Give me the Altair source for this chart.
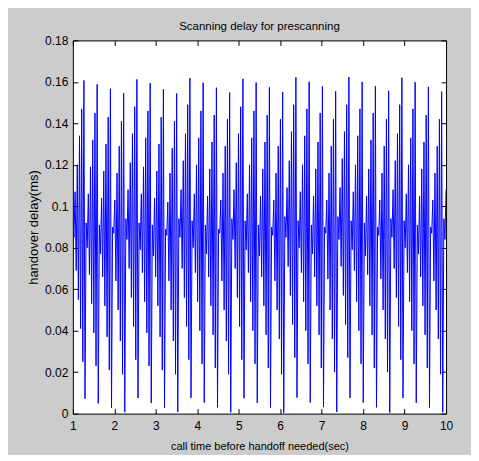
import altair as alt
import numpy as np
import pandas as pd

# Handover delay samples (ms), left to right
delay = [
    0.093, 0.085, 0.107, 0.069, 0.120, 0.055, 0.134, 0.041, 0.147, 0.025, 0.1607, 0.0072,
    0.092, 0.080, 0.106, 0.067, 0.119, 0.053, 0.132, 0.039, 0.145, 0.023, 0.1588, 0.0049,
    0.091, 0.077, 0.104, 0.066, 0.117, 0.052, 0.130, 0.037, 0.143, 0.021, 0.1567, 0.0027,
    0.090, 0.087, 0.103, 0.064, 0.116, 0.050, 0.129, 0.035, 0.141, 0.019, 0.1546, 0.0007,
    0.094, 0.084, 0.108, 0.070, 0.121, 0.056, 0.135, 0.042, 0.148, 0.026, 0.1612, 0.0075,
    0.092, 0.079, 0.106, 0.068, 0.119, 0.054, 0.133, 0.039, 0.146, 0.023, 0.1594, 0.0051,
    0.091, 0.076, 0.104, 0.066, 0.117, 0.052, 0.130, 0.037, 0.143, 0.021, 0.1565, 0.0028,
    0.089, 0.086, 0.102, 0.064, 0.116, 0.050, 0.128, 0.035, 0.141, 0.019, 0.1544, 0.0008,
    0.094, 0.085, 0.108, 0.070, 0.122, 0.056, 0.135, 0.042, 0.149, 0.026, 0.1618, 0.0076,
    0.093, 0.080, 0.106, 0.068, 0.120, 0.054, 0.133, 0.040, 0.146, 0.024, 0.1596, 0.0053,
    0.091, 0.077, 0.105, 0.066, 0.118, 0.052, 0.131, 0.038, 0.144, 0.022, 0.1572, 0.0030,
    0.089, 0.087, 0.103, 0.064, 0.116, 0.050, 0.129, 0.035, 0.142, 0.019, 0.1549, 0.0006,
    0.094, 0.084, 0.108, 0.070, 0.121, 0.056, 0.135, 0.042, 0.148, 0.026, 0.1615, 0.0074,
    0.093, 0.079, 0.106, 0.068, 0.120, 0.054, 0.133, 0.040, 0.146, 0.024, 0.1597, 0.0052,
    0.091, 0.076, 0.105, 0.066, 0.118, 0.052, 0.131, 0.038, 0.144, 0.022, 0.1574, 0.0029,
    0.090, 0.086, 0.103, 0.064, 0.116, 0.050, 0.129, 0.036, 0.142, 0.019, 0.1551, 0.0004,
    0.095, 0.085, 0.109, 0.071, 0.122, 0.057, 0.136, 0.043, 0.149, 0.027, 0.1622, 0.0077,
    0.093, 0.080, 0.107, 0.068, 0.120, 0.054, 0.134, 0.040, 0.147, 0.024, 0.1601, 0.0054,
    0.091, 0.077, 0.105, 0.066, 0.118, 0.052, 0.131, 0.038, 0.145, 0.022, 0.1578, 0.0031,
    0.090, 0.087, 0.103, 0.065, 0.116, 0.050, 0.129, 0.036, 0.142, 0.020, 0.1555, 0.0008,
    0.095, 0.084, 0.109, 0.071, 0.123, 0.057, 0.136, 0.043, 0.149, 0.027, 0.1623, 0.0076,
    0.093, 0.079, 0.107, 0.069, 0.120, 0.054, 0.134, 0.040, 0.147, 0.024, 0.1600, 0.0053,
    0.092, 0.076, 0.105, 0.067, 0.118, 0.052, 0.132, 0.038, 0.145, 0.022, 0.1579, 0.0030,
    0.090, 0.086, 0.103, 0.065, 0.116, 0.050, 0.129, 0.036, 0.142, 0.020, 0.1557, 0.0005,
    0.094, 0.085, 0.108, 0.070, 0.122, 0.056, 0.135, 0.042, 0.149, 0.026, 0.1620, 0.0075,
    0.093, 0.080, 0.106, 0.068, 0.120, 0.054, 0.133, 0.040, 0.147, 0.024, 0.1598, 0.0052,
    0.091, 0.077, 0.105, 0.066, 0.118, 0.052, 0.131, 0.038, 0.144, 0.022, 0.1576, 0.0029,
    0.090, 0.087, 0.103, 0.064, 0.116, 0.050, 0.129, 0.036, 0.142, 0.019, 0.1553, 0.0006,
    0.094, 0.084, 0.108,
]

x_ticks = [1, 2, 3, 4, 5, 6, 7, 8, 9, 10]
y_ticks = [0, 0.02, 0.04, 0.06, 0.08, 0.1, 0.12, 0.14, 0.16, 0.18]

title_text = "Scanning delay for prescanning"
x_title = "call time before handoff needed(sec)"
y_title = "handover delay(ms)"

# sampling grid (evenly spaced sample times from 1 to 10 s)
t = np.linspace(1, 10, len(delay))
df = pd.DataFrame({"t": t, "delay": delay})

FONT = "Liberation Sans"
x_scale = alt.Scale(domain=[1, 10], nice=False, zero=False)
y_scale = alt.Scale(domain=[0, 0.18], nice=False, zero=False)

common_axis = dict(domain=False, grid=False, tickSize=5, offset=-5, tickColor="black",
                   tickWidth=1, labelFont=FONT, labelFontSize=12, labelColor="black",
                   titleFont=FONT, titleFontWeight="normal", titleColor="black")

line = alt.Chart(df).mark_line(color="#0000FF", strokeWidth=1, clip=True).encode(
    x=alt.X("t:Q", scale=x_scale,
            axis=alt.Axis(values=x_ticks, format="d", title=x_title, orient="bottom",
                          titleFontSize=11, labelPadding=7, titlePadding=9,
                          labelFlush=False, **common_axis)),
    y=alt.Y("delay:Q", scale=y_scale,
            axis=alt.Axis(values=y_ticks, format="~g", title=y_title, orient="left",
                          titleFontSize=13, labelPadding=5, titlePadding=4,
                          labelFlush=False, **common_axis)),
)

mirror = alt.Chart(df).mark_line(opacity=0).encode(
    x=alt.X("t:Q", scale=x_scale,
            axis=alt.Axis(values=x_ticks, orient="top", labels=False, title=None,
                          labelPadding=0, **common_axis)),
    y=alt.Y("delay:Q", scale=y_scale,
            axis=alt.Axis(values=y_ticks, orient="right", labels=False, title=None,
                          labelPadding=0, **common_axis)),
)

chart = alt.layer(line, mirror).resolve_axis(x="independent", y="independent").properties(
    width=374,
    height=374,
    title=alt.TitleParams(title_text, font=FONT, fontSize=11.5, fontWeight="normal",
                          color="black", anchor="middle", offset=2),
    autosize=alt.AutoSizeParams(type="none"),
    padding={"left": 65, "top": 32, "right": 25, "bottom": 41},
    background="#CCCCCC",
).configure_view(stroke="black", strokeWidth=1, fill="white")

chart.save("out.html", embed_options={"renderer": "svg", "actions": False})
